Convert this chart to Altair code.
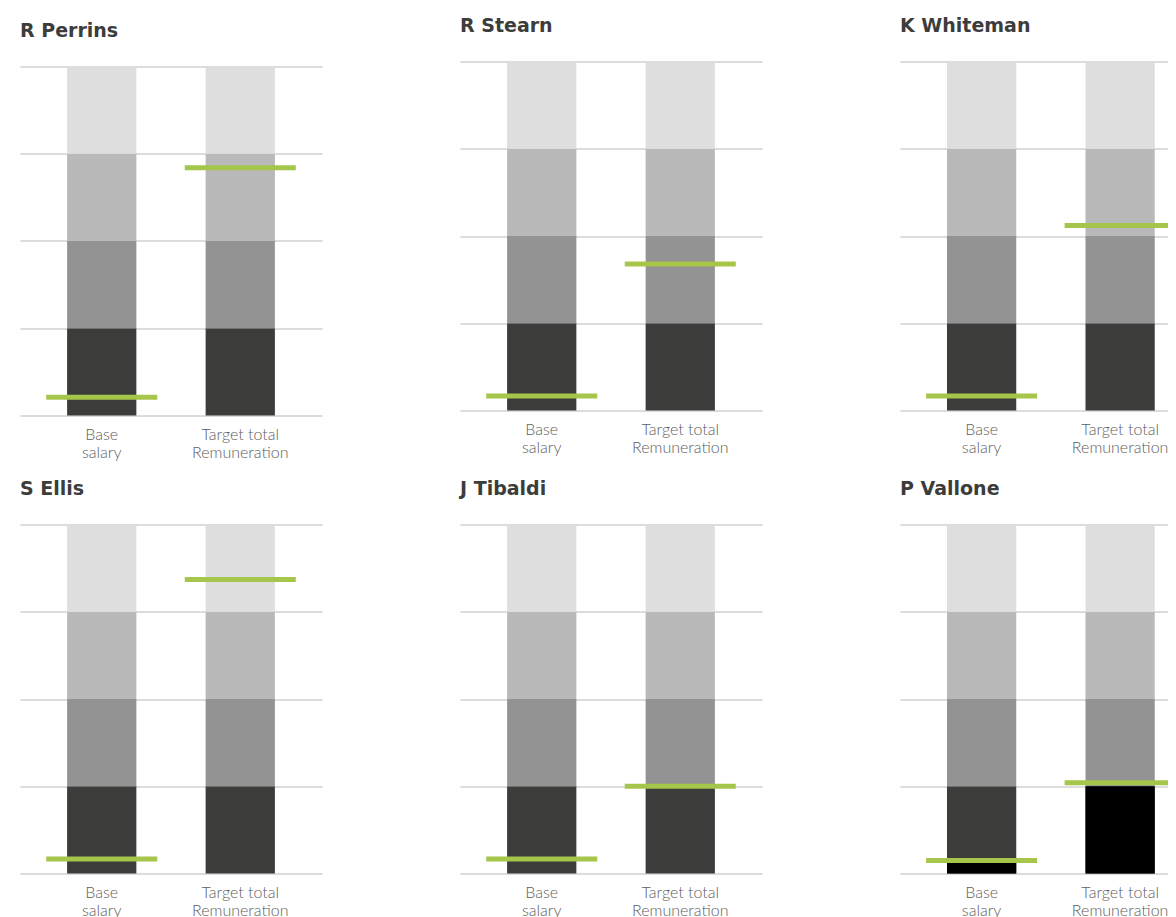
import altair as alt
import pandas as pd

# ---- data ----
names = ["R Perrins", "R Stearn", "K Whiteman", "S Ellis", "J Tibaldi", "P Vallone"]
categories = ["Base salary", "Target total Remuneration"]
label_lines = {"Base salary": ["Base", "salary"],
               "Target total Remuneration": ["Target total", "Remuneration"]}
quartiles = ["Lower quartile", "Second quartile", "Third quartile", "Upper quartile"]
quartile_bounds = [0, 1, 2, 3, 4]
quartile_colors = ["#3c3c3b", "#939393", "#b9b9b9", "#dedede"]
base_position = [0.21, 0.165, 0.165, 0.165, 0.165, 0.15]
target_position = [2.84, 1.68, 2.12, 3.37, 1.0, 1.04]
base_fill = [0, 0, 0, 0, 0, 0.15]
target_fill = [0, 0, 0, 0, 0, 1.0]

GREEN = "#a5c64a"
PLOT_H = 349

label_expr = " : ".join(
    f"datum.value == '{k}' ? {v!r}" for k, v in label_lines.items()
) + " : datum.label"


def panel(i, width=302, shift=0, pad_outer=0.34, align=0.5):
    # `shift` pushes a panel down by a few pixels (R Perrins sits lower in the reference)
    top = quartile_bounds[-1] + shift * (quartile_bounds[-1] / PLOT_H)
    seg = pd.DataFrame([
        {"cat": c, "q": quartiles[k], "lo": quartile_bounds[k], "hi": quartile_bounds[k + 1]}
        for c in categories for k in range(len(quartiles))
    ])
    xscale = alt.Scale(domain=categories, paddingInner=0.5, paddingOuter=pad_outer, align=align)
    x = alt.X(
        "cat:N", sort=categories, scale=xscale,
        axis=alt.Axis(title=None, labelAngle=0, domain=False, ticks=False,
                      labelExpr=label_expr, labelFontSize=16, labelColor="#5e5e5e",
                      labelFont="Lato", labelFontWeight=300, labelPadding=11,
                      labelLineHeight=18, labelBaseline="top"),
    )
    y = alt.Y(
        "lo:Q",
        scale=alt.Scale(domain=[0, top], nice=False, zero=True),
        axis=alt.Axis(title=None, values=quartile_bounds, labels=False, ticks=False,
                      domain=False, grid=True, gridColor="#dcdcdc", gridWidth=2),
    )
    bars = alt.Chart(seg).mark_bar().encode(
        x=x, y=y, y2="hi:Q",
        color=alt.Color("q:N", scale=alt.Scale(domain=quartiles, range=quartile_colors),
                        legend=None),
    )
    fill_df = pd.DataFrame({"cat": categories, "v": [base_fill[i], target_fill[i]]})
    fill_df = fill_df[fill_df["v"] > 0]
    layers = [bars]
    if len(fill_df):
        layers.append(alt.Chart(fill_df).mark_bar(color="#000000").encode(
            x=alt.X("cat:N", sort=categories), y=alt.Y("v:Q")))
    marker_df = pd.DataFrame({"cat": categories, "v": [base_position[i], target_position[i]]})
    layers.append(alt.Chart(marker_df).mark_tick(size=111, thickness=5, color=GREEN,
                                                 opacity=1, clip=True).encode(
        x=alt.X("cat:N", sort=categories), y=alt.Y("v:Q")))
    return alt.layer(*layers).properties(
        width=width, height=PLOT_H + shift,
        title=alt.TitleParams(names[i], anchor="start", dy=shift),
    )


col1 = alt.vconcat(panel(0, shift=5), panel(3), spacing=19)
col2 = alt.vconcat(panel(1), panel(4), spacing=24)
# the third column is cut off by the page edge in the reference
C3 = dict(width=268, pad_outer=0.2175, align=0.78)
col3 = alt.vconcat(panel(2, **C3), panel(5, **C3), spacing=24)

chart = alt.hconcat(col1, col2, col3, spacing=138).properties(
    padding={"left": 12, "top": 8.5, "right": 0, "bottom": 0}
).configure_view(stroke=None).configure_title(
    font="DejaVu Sans", fontSize=19, fontWeight="bold", color="#3c3c3b",
    anchor="start", baseline="alphabetic", offset=26,
)

chart.save("out.html", embed_options={"renderer": "svg", "actions": False})
